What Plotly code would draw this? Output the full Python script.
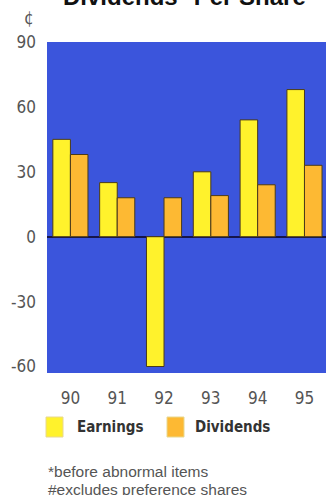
import plotly.graph_objects as go

# Financial years and per-share figures (cents)
years = ["90", "91", "92", "93", "94", "95"]
earnings = [45, 25, -60, 30, 54, 68]
dividends = [38, 18, 18, 19, 24, 33]
series_names = ["Earnings", "Dividends"]
y_ticks = [-60, -30, 0, 30, 60, 90]
y_tick_text = ["-60", "-30", "0", "30", "60", "90"]

YELLOW = "#fff22c"
ORANGE = "#fdb933"
BLUE = "#3b55dc"
EDGE = "#4a3a1a"
GREY = "#555555"
NARROW = "DejaVu Sans Condensed, Liberation Sans Narrow, sans-serif"
SANS = "Liberation Sans, Arial, sans-serif"

fig = go.Figure()
for name, vals, col in [(series_names[0], earnings, YELLOW),
                        (series_names[1], dividends, ORANGE)]:
    fig.add_trace(go.Bar(
        x=years, y=vals, name=name,
        marker=dict(color=col, line=dict(color=EDGE, width=1)),
        showlegend=False,
    ))

fig.update_layout(
    width=326, height=495,
    margin=dict(l=47, r=0, t=42, b=122),
    paper_bgcolor="white",
    plot_bgcolor=BLUE,
    barmode="group",
    bargap=0.25,
    bargroupgap=0,
    xaxis=dict(
        range=[-0.5, 5.46],
        showgrid=False, zeroline=False, showline=False,
        ticks="", ticklabelstandoff=13,
        tickfont=dict(family=NARROW, size=17, color=GREY),
        fixedrange=True,
    ),
    yaxis=dict(
        range=[-63, 90],
        tickvals=y_ticks, ticktext=y_tick_text,
        showgrid=False, showline=False,
        zeroline=True, zerolinecolor="#15154a", zerolinewidth=2,
        ticks="", ticklabelstandoff=10,
        tickfont=dict(family=NARROW, size=17, color=GREY),
        fixedrange=True,
    ),
)

# Legend swatches and labels
PW, PH = 279.0, 331.0
def px_x(p):
    return (p - 47) / PW
def px_y(p):
    return (373 - p) / PH

for x0, x1, col, label, lx in [(46, 63, YELLOW, series_names[0], 75),
                               (167, 184, ORANGE, series_names[1], 193)]:
    fig.add_shape(type="rect", xref="paper", yref="paper",
                  x0=px_x(x0), x1=px_x(x1), y0=px_y(437), y1=px_y(417),
                  fillcolor=col, line=dict(color="#e8d890", width=1))
    fig.add_annotation(xref="paper", yref="paper", x=px_x(lx), y=px_y(427),
                       xanchor="left", yanchor="middle", showarrow=False,
                       text="<b>%s</b>" % label,
                       font=dict(family=NARROW, size=15, color="#333333"))

# Unit label, title and footnotes
fig.add_annotation(xref="paper", yref="paper", x=px_x(29), y=px_y(18),
                   xanchor="center", yanchor="middle", showarrow=False,
                   text="¢", font=dict(family=NARROW, size=17, color=GREY))
fig.add_annotation(xref="paper", yref="paper", x=px_x(61), y=px_y(-3),
                   xanchor="left", yanchor="middle", showarrow=False,
                   text="<b>Dividends* Per Share</b>",
                   font=dict(family=SANS, size=24, color="#111111"))
fig.add_annotation(xref="paper", yref="paper", x=px_x(46), y=px_y(471),
                   xanchor="left", yanchor="middle", showarrow=False,
                   text="*before abnormal items",
                   font=dict(family=SANS, size=15.5, color=GREY))
fig.add_annotation(xref="paper", yref="paper", x=px_x(46), y=px_y(489),
                   xanchor="left", yanchor="middle", showarrow=False,
                   text="#excludes preference shares",
                   font=dict(family=SANS, size=15.5, color=GREY))

fig.write_html("out.html")
